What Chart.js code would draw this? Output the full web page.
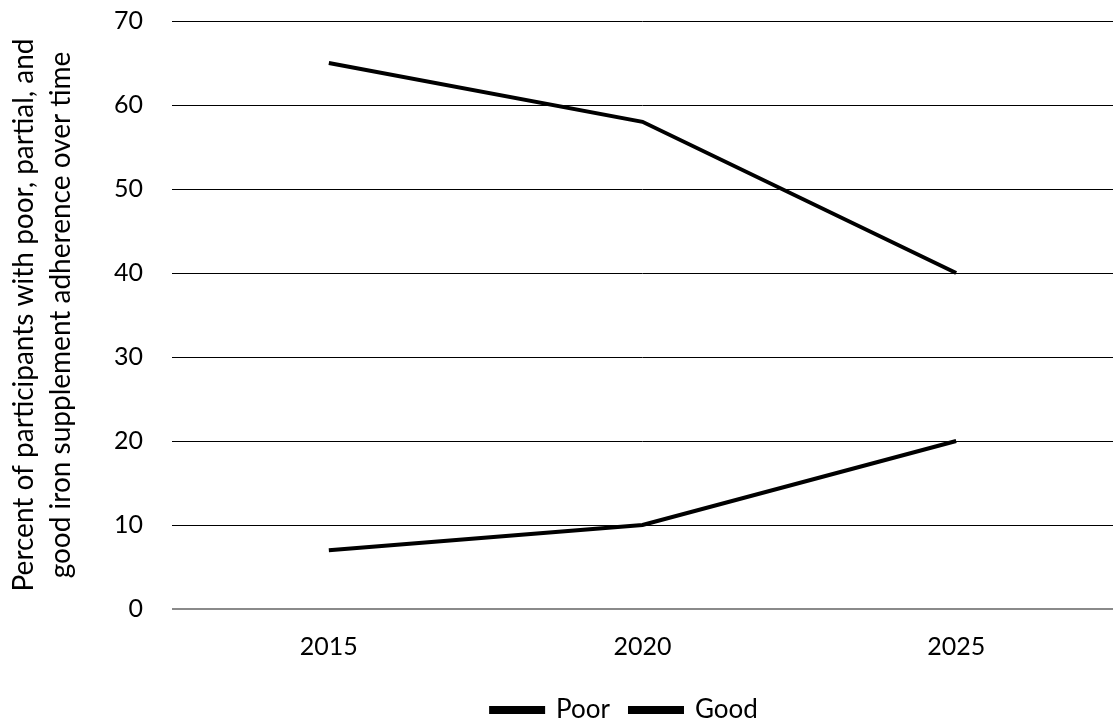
<!DOCTYPE html>
<html lang="en">
<head>
    <meta charset="UTF-8">
    <title>Iron supplement adherence</title>
    <script src="https://cdn.jsdelivr.net/npm/chart.js"></script>
    <style>
        html, body { margin: 0; padding: 0; background: #fff; overflow: hidden; }
    </style>
</head>
<body>
    <canvas id="adherenceChart" width="1113" height="726"></canvas>

    <script>
        // Survey years and adherence percentages
        const years = ['2015', '2020', '2025'];
        const poorValues = [65, 58, 40];
        const goodValues = [7, 10, 20];
        const yTicks = [0, 10, 20, 30, 40, 50, 60, 70];

        const fontFamily = 'Lato, sans-serif';

        // nudge the legend a little left and down from where the layout puts it
        const legendNudge = {
            id: 'legendNudge',
            afterLayout(chart) {
                const legend = chart.legend;
                legend.left -= 18;
                legend.right -= 18;
                legend.top += 7;
                legend.bottom += 7;
            }
        };

        const adherenceChart = new Chart(document.getElementById('adherenceChart'), {
            type: 'line',
            data: {
                labels: years,
                datasets: [
                    {
                        label: 'Poor',
                        data: poorValues,
                        borderColor: '#000',
                        backgroundColor: '#000',
                        borderWidth: 4,
                        pointRadius: 0,
                        tension: 0
                    },
                    {
                        label: 'Good',
                        data: goodValues,
                        borderColor: '#000',
                        backgroundColor: '#000',
                        borderWidth: 4,
                        pointRadius: 0,
                        tension: 0
                    }
                ]
            },
            options: {
                responsive: false,
                animation: false,
                layout: { padding: { left: 6, right: 0, top: 0, bottom: 0 } },
                plugins: {
                    tooltip: { enabled: false },
                    legend: {
                        position: 'bottom',
                        fullSize: false,
                        labels: {
                            color: '#000',
                            boxWidth: 52,
                            boxHeight: 4,
                            padding: 20,
                            font: { family: fontFamily, size: 26 }
                        }
                    }
                },
                scales: {
                    x: {
                        offset: true,
                        grid: { display: false },
                        border: { display: false },
                        afterFit: scale => {
                            // let the plot run closer to the year labels
                            scale.height -= 7;
                        },
                        ticks: {
                            color: '#000',
                            padding: 15,
                            font: { family: fontFamily, size: 25 }
                        }
                    },
                    y: {
                        min: 0,
                        max: 70,
                        afterBuildTicks: scale => {
                            scale.ticks = yTicks.map(v => ({ value: v }));
                        },
                        afterFit: scale => {
                            scale.width = 166;
                            scale.paddingTop = 21;
                            scale.paddingBottom = 15;
                        },
                        grid: {
                            drawTicks: false,
                            color: ctx => ctx.tick.value === 0 ? '#8a8a8a' : '#000',
                            lineWidth: ctx => ctx.tick.value === 0 ? 2 : 1
                        },
                        border: { display: false },
                        ticks: {
                            color: '#000',
                            padding: 29,
                            font: { family: fontFamily, size: 25 }
                        },
                        title: {
                            display: true,
                            text: ['Percent of participants with poor, partial, and',
                                   'good iron supplement adherence over time'],
                            color: '#000',
                            padding: { top: 0, bottom: 0 },
                            font: { family: fontFamily, size: 28, lineHeight: 1.3 }
                        }
                    }
                }
            },
            plugins: [legendNudge]
        });
    </script>
</body>
</html>
